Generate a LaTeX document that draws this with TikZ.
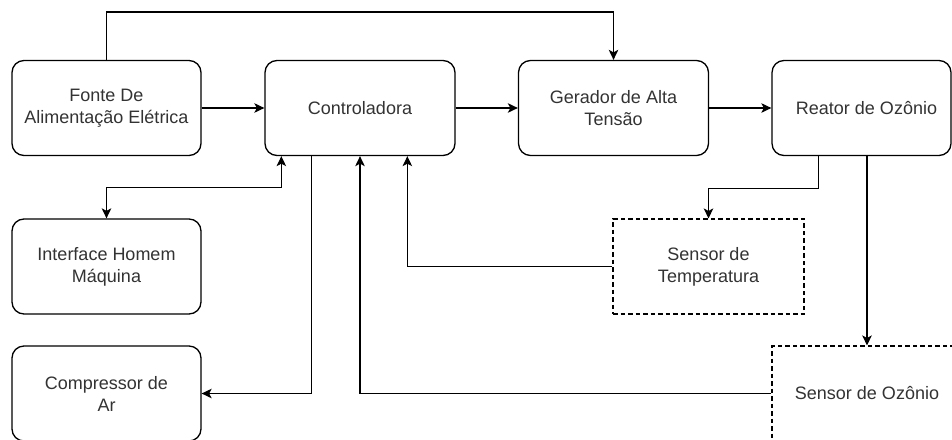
\documentclass[tikz,border=0pt]{standalone}
\usepackage{fontspec}
\setmainfont{Liberation Sans}
\usetikzlibrary{arrows.meta,calc}
\definecolor{txt}{HTML}{333333}
\tikzset{
  box/.style={draw=black, line width=1.3pt, rounded corners=12pt, minimum width=190pt, minimum height=95pt,
    align=center, text=txt, font=\fontsize{18}{22}\selectfont, inner sep=2pt},
  dbox/.style={draw=black, line width=1.1pt, dash pattern=on 4.5pt off 3pt, minimum width=190pt, minimum height=95pt,
    align=center, text=txt, font=\fontsize{18}{22}\selectfont, inner sep=2pt},
  conn/.style={draw=black, line width=1.3pt, -{Stealth[length=10pt,width=9.5pt,inset=2.5pt]}},
  biconn/.style={draw=black, line width=1.3pt, {Stealth[length=10pt,width=9.5pt,inset=2.5pt]}-{Stealth[length=10pt,width=9.5pt,inset=2.5pt]}},
}
\begin{document}
\begin{tikzpicture}[x=1pt,y=-1pt]
\useasboundingbox (0,0) rectangle (952,439);
\fill[white] (0,0) rectangle (952,439);
\clip (0,0) rectangle (952,439);
\node[box, minimum width=189pt] (fonte) at (106.5,108) {Fonte De\\Alimentação Elétrica};
\node[box] (ctrl) at (360,108) {Controladora};
\node[box] (ger) at (613.5,108) {Gerador de Alta\\Tensão};
\node[box, minimum width=179pt] (reator) at (861.5,108) {\hspace{10pt}Reator de Ozônio};
\node[box, minimum width=189pt] (iface) at (106.5,266.5) {Interface Homem\\Máquina};
\node[box, minimum width=189pt] (comp) at (106.5,393.5) {Compressor de\\Ar};
\node[dbox, minimum width=191pt] (sensT) at (708.5,266.5) {Sensor de\\Temperatura};
\node[dbox] (sensO) at (867,393.5) {Sensor de Ozônio};
\coordinate (topy) at (0,12);
\draw[conn] (fonte.north) |- (topy -| ger.north) -- (ger.north);
\draw[conn] (fonte.east) -- (ctrl.west);
\draw[conn] (ctrl.east) -- (ger.west);
\draw[conn] (ger.east) -- (reator.west);
\coordinate (rT) at ($(reator.south west)+(47,0)$);
\draw[conn] (rT) -- ++(0,32) -| (sensT.north);
\draw[conn] (reator.south -| sensO.north) -- (sensO.north);
\coordinate (cT) at ($(ctrl.south west)+(143,0)$);
\draw[conn] (sensT.west) -| (cT);
\draw[conn] (sensO.west) -| (ctrl.south);
\coordinate (cC) at ($(ctrl.south west)+(47,0)$);
\draw[conn] (cC) |- (comp.east);
\coordinate (cI) at ($(ctrl.south west)+(17,0)$);
\draw[biconn] (cI) -- ++(0,31.5) -| (iface.north);
\end{tikzpicture}
\end{document}
